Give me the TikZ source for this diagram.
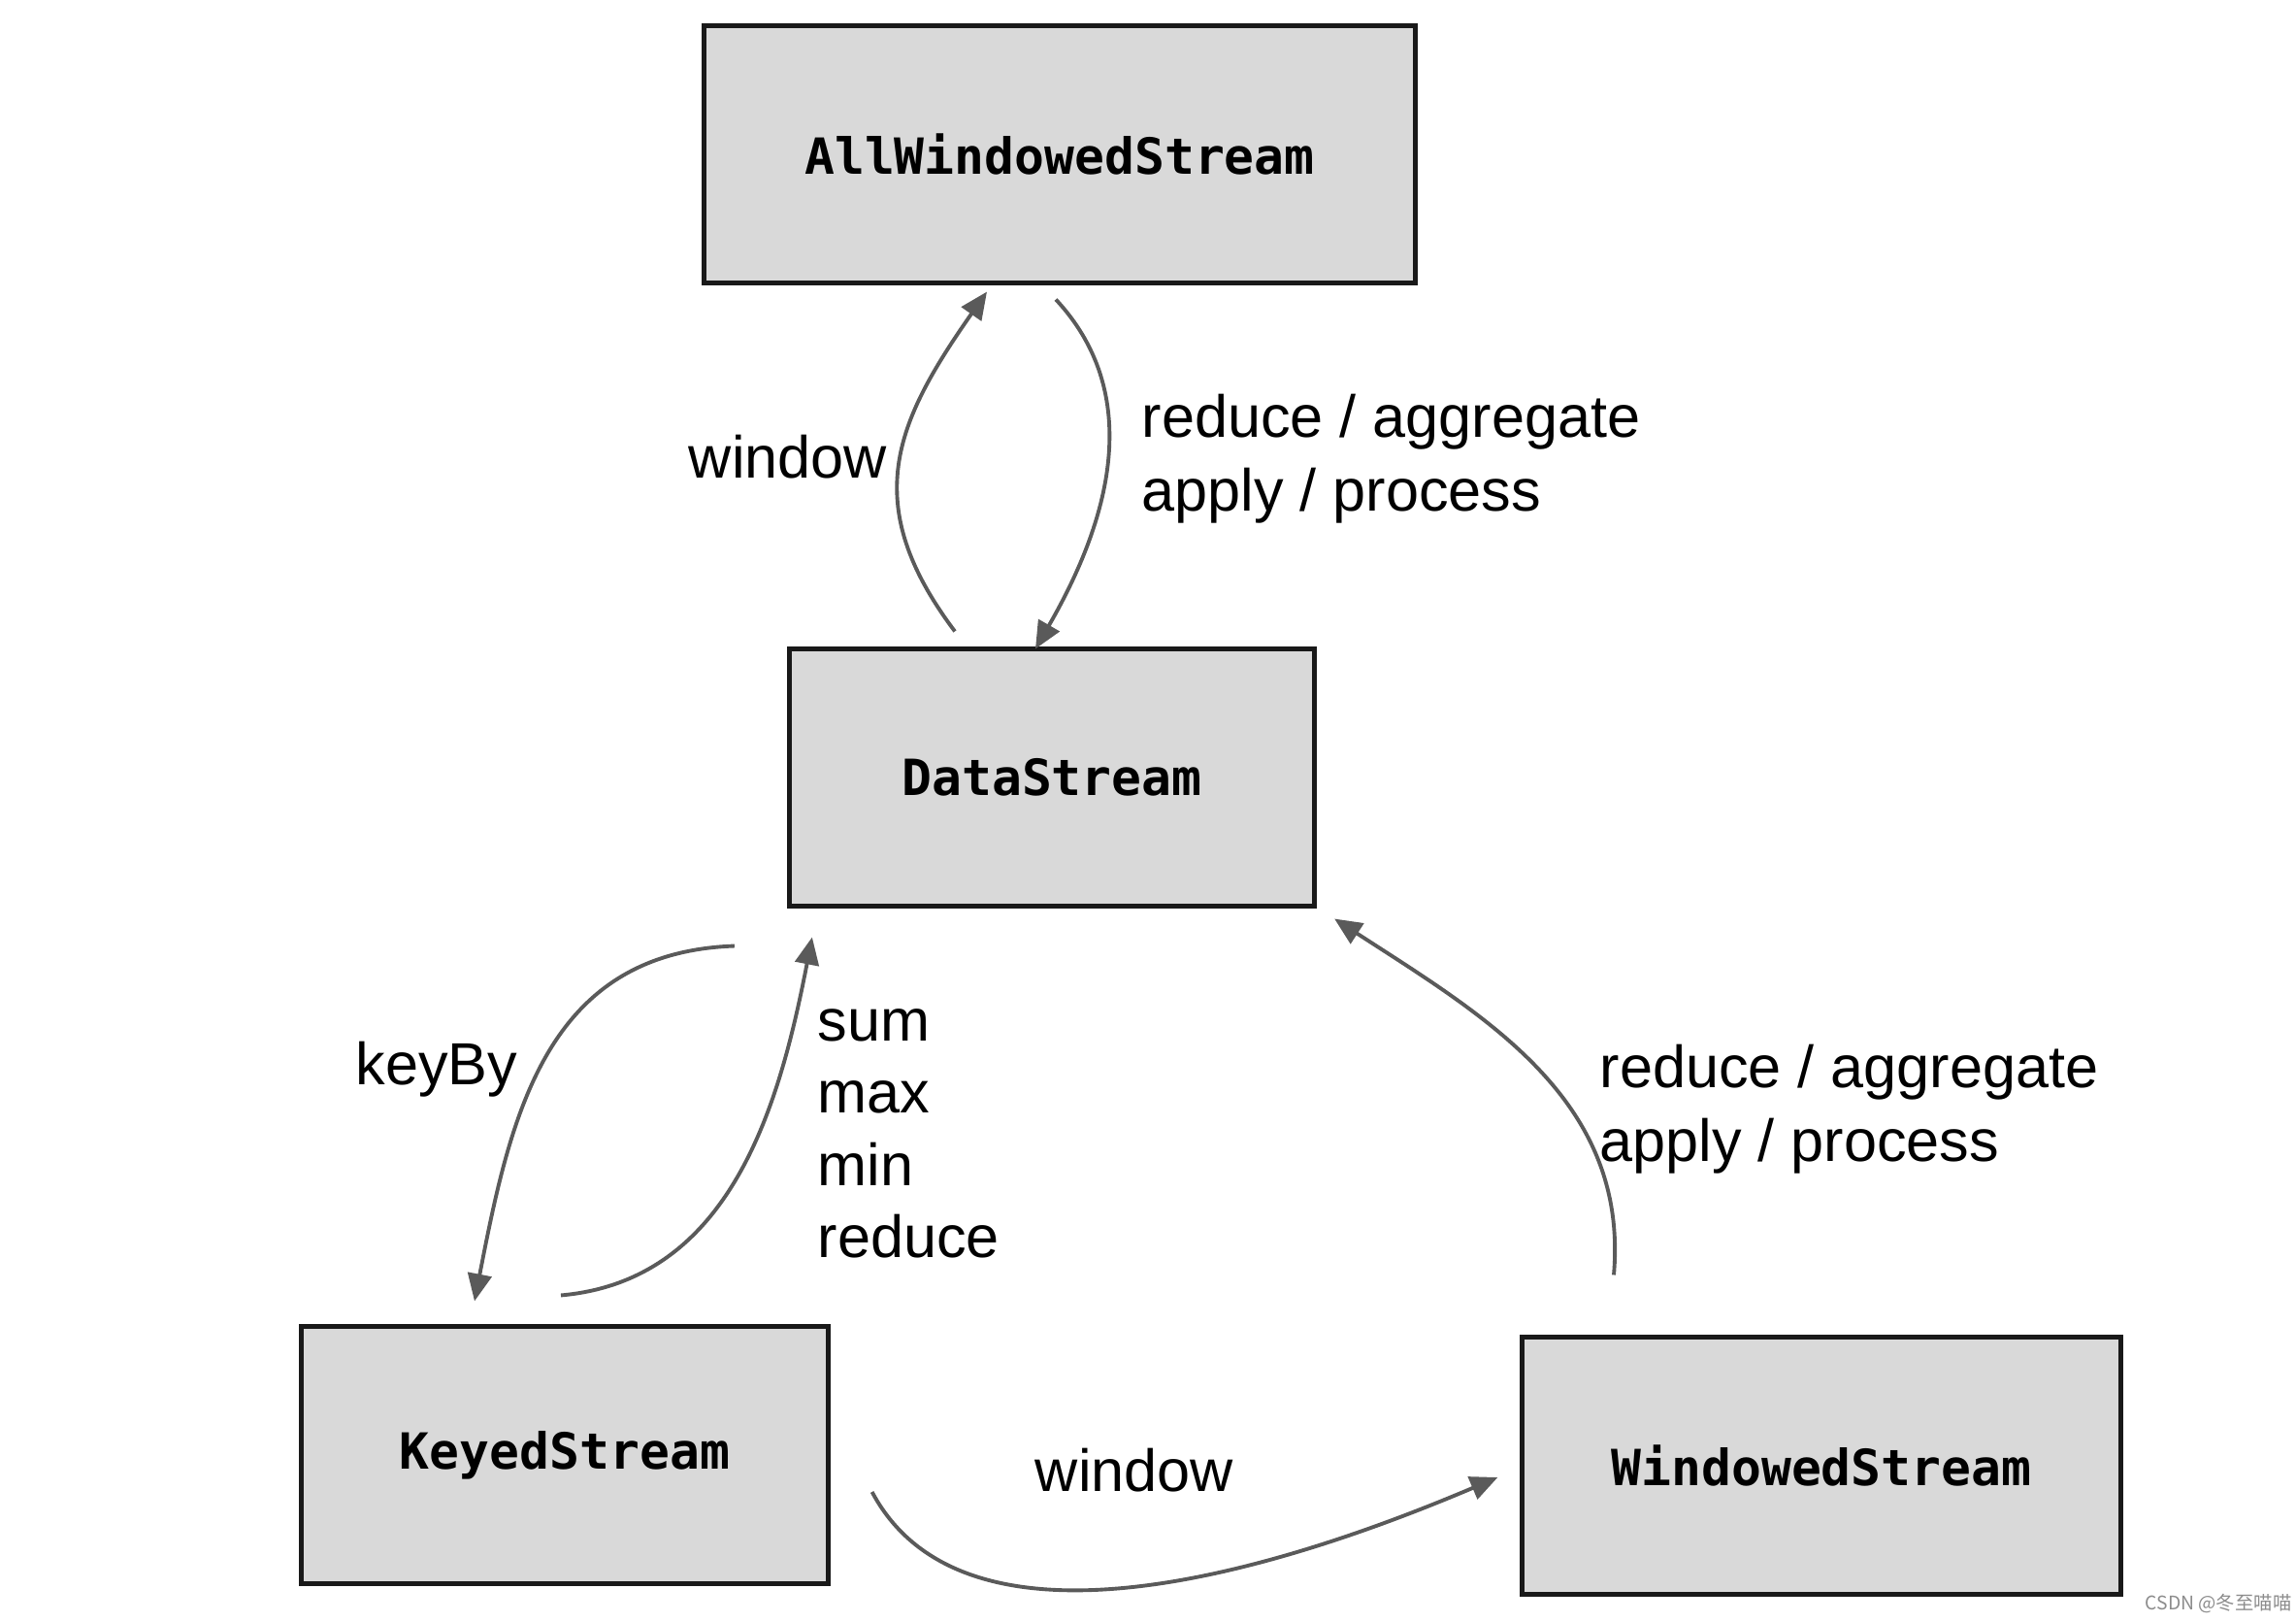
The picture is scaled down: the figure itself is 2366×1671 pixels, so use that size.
\documentclass[tikz,border=0pt]{standalone}
\usepackage{fontspec}
\setmainfont{Liberation Sans}
\newfontfamily\boxfont{DejaVu Sans Mono}
\newfontfamily\cjkfont{Noto Sans CJK SC}
\usetikzlibrary{arrows.meta,calc}
\definecolor{boxgray}{RGB}{217,217,217}
\definecolor{arrgray}{RGB}{90,90,90}
\begin{document}
\begin{tikzpicture}[x=0.01cm,y=-0.01cm,
	box/.style={draw=black!90,line width=1.4pt,fill=boxgray,inner sep=0pt,
		minimum height=2.64cm,font=\boxfont\bfseries\fontsize{14.6}{17}\selectfont},
	arr/.style={draw=arrgray,line width=1.1pt,-{Triangle[length=8pt,width=7pt]}},
	lbl/.style={inner sep=0pt,align=left,font=\fontsize{17.4}{21.6}\selectfont}]
	\useasboundingbox (0,0) rectangle (2366,1671);
	%方框
	\node[box,minimum width=7.32cm] (allw) at (1092,159) {AllWindowedStream};
	\node[box,minimum width=5.41cm] (data) at (1084,801) {\raisebox{-2pt}{DataStream}};
	\node[box,minimum width=5.42cm] (keyed) at (582,1499) {\raisebox{-3pt}{KeyedStream}};
	\node[box,minimum width=6.16cm] (win) at (1877,1510) {WindowedStream};
	%文字
	\node[lbl] (wup) at (812,471) {window};
	\node[lbl,anchor=west] (redup) at (1176,473) {reduce / aggregate\\apply / process};
	\node[lbl] (keyby) at (450,1102) {keyBy};
	\node[lbl,anchor=west,font=\fontsize{17.4}{21.2}\selectfont] (agg) at (842,1168) {sum\\max\\min\\reduce};
	\node[lbl,anchor=west] (redwin) at (1648,1143) {reduce / aggregate\\apply / process};
	\node[lbl] (wdown) at (1169,1515) {window};
	\node[inner sep=0pt,text=black!45,font=\cjkfont\fontsize{5.5}{6}\selectfont] (mark) at (2286,1652) {CSDN @冬至喵喵};
	%箭头
	\draw[arr] ($(data.north)+(-100,-16)$) to[out=127,in=235,looseness=1.2] ($(allw.south)+(-75,7)$);
	\draw[arr] ($(allw.south)+(-4,15)$) to[out=-47,in=60] ($(data.north)+(-17,2)$);
	\draw[arr] ($(data.south west)+(-54,39)$) to[out=182,in=79,looseness=1.1] ($(keyed.north)+(-93,-24)$);
	\draw[arr] ($(keyed.north)+(-4,-30)$) to[out=5,in=259] ($(data.south west)+(26,30)$);
	\draw[arr] ($(win.north)+(-214,-62)$) to[out=85,in=-33] ($(data.south east)+(18,11)$);
	\draw[arr] ($(keyed.east)+(43,38)$) to[out=-62,in=203,looseness=0.85] ($(win.west)+(-23,12)$);
\end{tikzpicture}
\end{document}
